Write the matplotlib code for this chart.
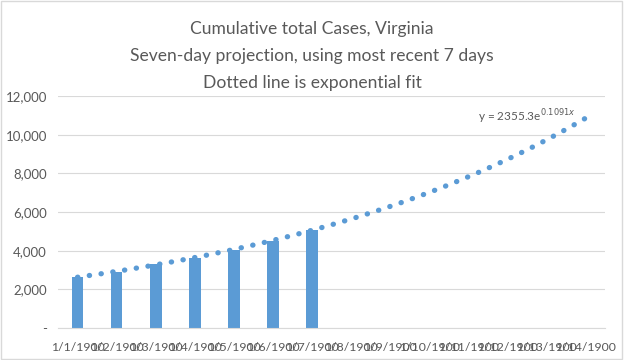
import matplotlib.pyplot as plt
import numpy as np

# categories (Excel serial dates shown as 1/x/1900)
dates = ['1/1/1900', '1/2/1900', '1/3/1900', '1/4/1900', '1/5/1900', '1/6/1900', '1/7/1900',
         '1/8/1900', '1/9/1900', '1/10/1900', '1/11/1900', '1/12/1900', '1/13/1900', '1/14/1900']
cases = [2637, 2878, 3333, 3645, 4042, 4509, 5077]

# trendline coefficients as printed on the chart
fit_a = 2355.3
fit_b = 0.1091

grey = '#595959'
blue = '#5B9BD5'
font = 'Lato'

fig = plt.figure(figsize=(6.24, 3.6), dpi=100)
ax = fig.add_axes([58/624, 1-328/360, (605-58)/624, (328-96)/360])

x = np.arange(len(cases))
ax.bar(x, cases, width=0.3, color=blue, zorder=2)

xt = np.linspace(1, len(dates), 200)
ax.plot(xt - 1, fit_a*np.exp(fit_b*xt), color=blue, lw=3.8,
        linestyle=(0, (0.05, 2.2)), dash_capstyle='round', zorder=3)

ax.text(12.75, 10950, r'y = 2355.3e$^{0.1091x}$', ha='right', va='center',
        color=grey, fontsize=8.5, family=font)

ax.set_xlim(-0.5, len(dates)-0.5)
ax.set_ylim(0, 12000)
ax.set_xticks(np.arange(len(dates)))
ax.set_xticklabels(dates)
ax.set_yticks(np.arange(0, 12001, 2000))
ax.set_yticklabels(['-'] + ['{:,}'.format(v) for v in range(2000, 12001, 2000)])
ax.tick_params(length=0, colors=grey, pad=8)
ax.tick_params(axis='x', labelsize=8.8, pad=10)
ax.tick_params(axis='y', labelsize=9.5)
for lab in ax.get_xticklabels() + ax.get_yticklabels():
    lab.set_family(font)
ax.grid(axis='y', color='#d9d9d9', lw=0.8, zorder=0)
for s in ['top', 'right', 'left']:
    ax.spines[s].set_visible(False)
ax.spines['bottom'].set_color('#d9d9d9')

fig.text(0.5, 1-29/360, 'Cumulative total Cases, Virginia', ha='center', va='center',
         color=grey, fontsize=12.6, family=font)
fig.text(0.5, 1-56/360, 'Seven-day projection, using most recent 7 days', ha='center',
         va='center', color=grey, fontsize=12.6, family=font)
fig.text(0.5, 1-83/360, 'Dotted line is exponential fit', ha='center', va='center',
         color=grey, fontsize=12.6, family=font)

fig.patches.append(plt.Rectangle((0.002, 0.003), 0.995, 0.994, transform=fig.transFigure,
                                 fill=False, edgecolor='#d9d9d9', lw=1))

plt.savefig('out.png', dpi=100)
